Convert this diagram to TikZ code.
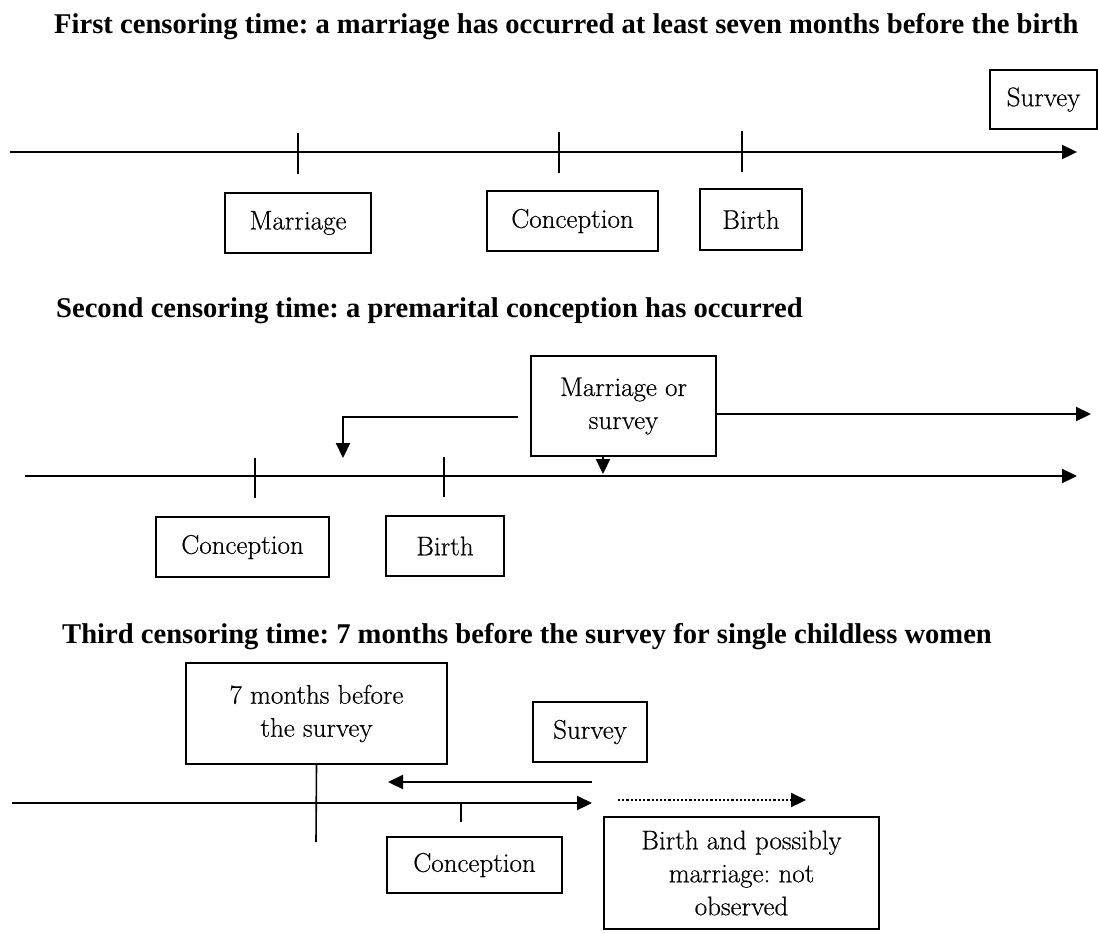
\documentclass[tikz,border=0pt]{standalone}
\usepackage{fontspec}
\setmainfont{Latin Modern Roman}[FakeBold=0.4]
\newfontfamily\titlefont{Liberation Serif}
\usetikzlibrary{arrows.meta}
\begin{document}
\frenchspacing
\begin{tikzpicture}[x=1pt,y=-1pt,
  box/.style={draw, line width=1.8pt, inner sep=0pt, align=center,
    font=\fontsize{27}{33}\selectfont},
  ttl/.style={anchor=base west, inner sep=0pt,
    font=\titlefont\bfseries\fontsize{28.6}{32}\selectfont},
  axisline/.style={line width=2.2pt, -{Triangle[length=15pt,width=14pt]}},
  tickline/.style={line width=1.6pt},
  arr/.style={line width=2.2pt, -{Triangle[length=15pt,width=14pt]}},
  dotarr/.style={line width=2.2pt, dotted, -{Triangle[length=15pt,width=14pt]}}]
\useasboundingbox (0,0) rectangle (1098,932);
\fill[white] (0,0) rectangle (1098,932);

% ---------- Section 1 ----------
\node[ttl] (t1) at (54,33) {First censoring time: a marriage has occurred at least seven months before the birth};
\node[box, minimum width=107pt, minimum height=59pt] (s1survey) at (1043.5,99.5) {Survey};
\node[box, minimum width=146pt, minimum height=60pt] (s1marr) at (298,223) {Marriage};
\node[box, minimum width=171pt, minimum height=60pt] (s1conc) at (572.5,221) {Conception};
\node[box, minimum width=102pt, minimum height=61pt] (s1birth) at (751,219.5) {Birth};
\coordinate (a1s) at (10,152);
\coordinate (a1e) at (1077,152);
\draw[axisline] (a1s) -- (a1e);
\coordinate (k1a) at (298,133); \coordinate (k1b) at (298,174);
\coordinate (k2a) at (559,132); \coordinate (k2b) at (559,173);
\coordinate (k3a) at (742,131); \coordinate (k3b) at (742,172);
\draw[tickline] (k1a) -- (k1b);
\draw[tickline] (k2a) -- (k2b);
\draw[tickline] (k3a) -- (k3b);

% ---------- Section 2 ----------
\node[ttl] (t2) at (56,317) {Second censoring time: a premarital conception has occurred};
\node[box, minimum width=185pt, minimum height=100pt] (s2ms) at (623.5,406) {Marriage or\\survey};
\node[box, minimum width=173pt, minimum height=60pt] (s2conc) at (242.5,547) {Conception};
\node[box, minimum width=118pt, minimum height=60pt] (s2birth) at (445,546) {Birth};
\coordinate (a2s) at (25,476);
\coordinate (a2e) at (1077,476);
\draw[axisline] (a2s) -- (a2e);
\coordinate (r2e) at (1091,414);
\draw[arr] ([yshift=-8pt]s2ms.east) -- (r2e);
\coordinate (l2s) at (518,417);
\coordinate (l2e) at (343,458);
\draw[arr] (l2s) -| (l2e);
\coordinate (d2e) at (603,474);
\draw[arr] (s2ms.south -| d2e) -- (d2e);
\coordinate (k4a) at (255,458); \coordinate (k4b) at (255,498);
\coordinate (k5a) at (444,457); \coordinate (k5b) at (444,497);
\draw[tickline] (k4a) -- (k4b);
\draw[tickline] (k5a) -- (k5b);

% ---------- Section 3 ----------
\node[ttl] (t3) at (62,643) {Third censoring time: 7 months before the survey for single childless women};
\node[box, minimum width=261pt, minimum height=101pt] (s3seven) at (316.5,713.5) {7 months before\\the survey};
\node[box, minimum width=114pt, minimum height=60pt] (s3survey) at (590,732) {Survey};
\node[box, minimum width=175pt, minimum height=56pt] (s3conc) at (474.5,865) {Conception};
\node[box, minimum width=275pt, minimum height=112pt] (s3birth) at (741.5,873) {Birth and possibly\\marriage: not\\observed};
\coordinate (v3e) at (316,842);
\draw[tickline] (s3seven.south) -- (v3e);
\coordinate (l3s) at (592,782);
\coordinate (l3e) at (388,782);
\draw[arr] (l3s) -- (l3e);
\coordinate (a3s) at (12,803);
\coordinate (a3e) at (592,803);
\draw[axisline] (a3s) -- (a3e);
\coordinate (k6a) at (461,803); \coordinate (k6b) at (461,822);
\draw[tickline] (k6a) -- (k6b);
\coordinate (d3s) at (618,800);
\coordinate (d3e) at (806,800);
\draw[dotarr] (d3s) -- (d3e);
\end{tikzpicture}
\end{document}
